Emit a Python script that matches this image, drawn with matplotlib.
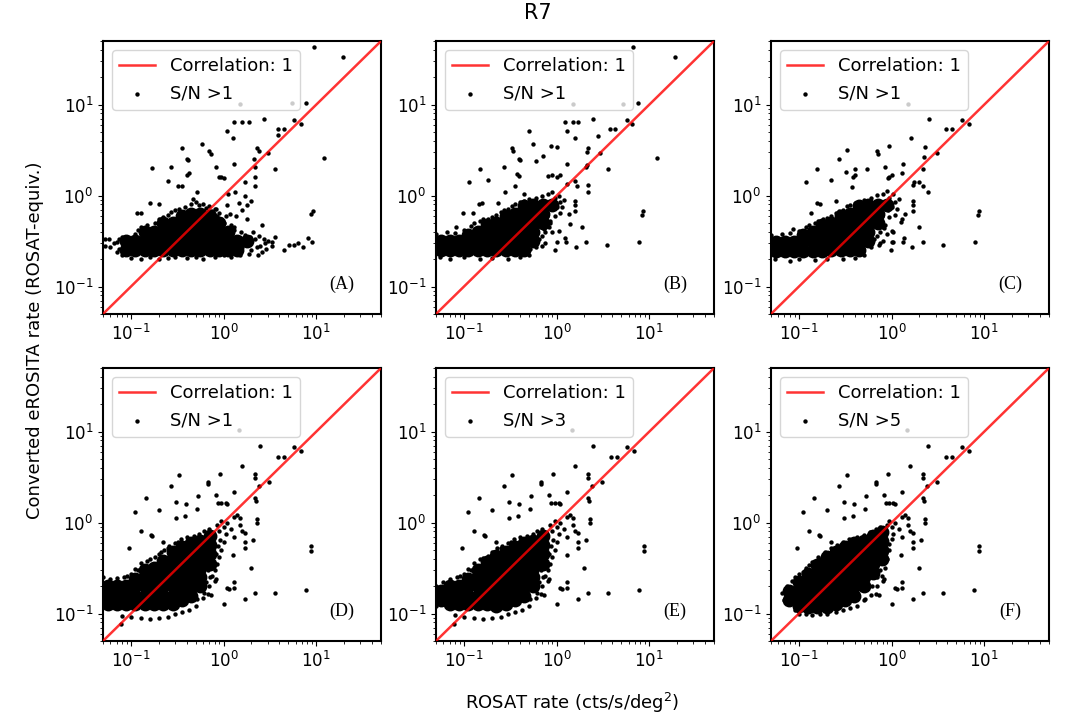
import matplotlib
matplotlib.use("Agg")
import matplotlib.pyplot as plt
import numpy as np

# x = ROSAT rate, y = converted eROSITA rate (cts/s/deg^2)
one_to_one = [0.01, 100.0]

sn_labels = ["S/N >1", "S/N >1", "S/N >1", "S/N >1", "S/N >3", "S/N >5"]
panel_tags = ["(A)", "(B)", "(C)", "(D)", "(E)", "(F)"]

# dense parts of each cloud (drawn with big dots)
a_core = [
    (0.089, 0.251), (0.112, 0.251), (0.141, 0.251), (0.178, 0.251), (0.224, 0.251), (0.282, 0.251),
    (0.355, 0.251), (0.447, 0.251), (0.562, 0.251), (0.708, 0.251), (0.891, 0.251), (1.12, 0.251), (1.41, 0.251),
    (0.089, 0.316), (0.112, 0.316), (0.141, 0.316), (0.178, 0.316), (0.224, 0.316), (0.282, 0.316),
    (0.355, 0.316), (0.447, 0.316), (0.562, 0.316), (0.708, 0.316), (0.891, 0.316), (1.12, 0.316), (1.41, 0.316),
    (1.78, 0.316),
    (0.141, 0.398), (0.178, 0.398), (0.224, 0.398), (0.282, 0.398), (0.355, 0.398),
    (0.447, 0.398), (0.562, 0.398), (0.708, 0.398), (0.891, 0.398), (1.12, 0.398),
    (0.224, 0.501), (0.282, 0.501), (0.355, 0.501), (0.447, 0.501), (0.562, 0.501),
    (0.708, 0.501), (0.891, 0.501),
    (0.355, 0.6), (0.447, 0.631), (0.562, 0.631), (0.708, 0.6),
]
b_core = [
    (0.056, 0.251), (0.071, 0.251), (0.089, 0.251), (0.112, 0.251), (0.141, 0.251), (0.178, 0.251),
    (0.224, 0.251), (0.282, 0.251), (0.355, 0.251), (0.447, 0.251),
    (0.056, 0.316), (0.071, 0.316), (0.089, 0.316), (0.112, 0.316), (0.141, 0.316), (0.178, 0.316),
    (0.224, 0.316), (0.282, 0.316), (0.355, 0.316), (0.447, 0.316), (0.562, 0.316),
    (0.112, 0.37), (0.141, 0.398), (0.178, 0.398), (0.224, 0.398), (0.282, 0.398), (0.355, 0.398),
    (0.447, 0.398), (0.562, 0.398),
    (0.178, 0.47), (0.224, 0.501), (0.282, 0.501), (0.355, 0.501), (0.447, 0.501), (0.562, 0.501),
    (0.708, 0.501),
    (0.282, 0.6), (0.355, 0.631), (0.447, 0.631), (0.562, 0.631), (0.708, 0.631),
    (0.447, 0.76), (0.562, 0.794), (0.708, 0.794), (0.891, 0.794),
]
c_core = [
    (0.056, 0.245), (0.071, 0.245), (0.089, 0.245), (0.112, 0.245), (0.141, 0.245), (0.178, 0.245),
    (0.224, 0.251), (0.282, 0.251), (0.355, 0.251), (0.447, 0.251),
    (0.056, 0.31), (0.071, 0.31), (0.089, 0.31), (0.112, 0.31), (0.141, 0.316), (0.178, 0.316),
    (0.224, 0.316), (0.282, 0.316), (0.355, 0.316), (0.447, 0.316), (0.562, 0.316),
    (0.112, 0.37), (0.141, 0.398), (0.178, 0.398), (0.224, 0.398), (0.282, 0.398), (0.355, 0.398),
    (0.447, 0.398), (0.562, 0.398),
    (0.178, 0.47), (0.224, 0.501), (0.282, 0.501), (0.355, 0.501), (0.447, 0.501), (0.562, 0.501),
    (0.708, 0.501),
    (0.282, 0.6), (0.355, 0.631), (0.447, 0.631), (0.562, 0.631), (0.708, 0.631),
    (0.447, 0.76), (0.562, 0.794), (0.708, 0.794), (0.891, 0.794),
]
d_core = [
    (0.056, 0.2), (0.056, 0.158), (0.056, 0.126),
    (0.071, 0.2), (0.071, 0.158), (0.071, 0.126),
    (0.089, 0.2), (0.089, 0.158), (0.089, 0.126),
    (0.112, 0.24), (0.112, 0.2), (0.112, 0.158), (0.112, 0.126),
    (0.141, 0.3), (0.141, 0.251), (0.141, 0.2), (0.141, 0.158), (0.141, 0.126),
    (0.178, 0.316), (0.178, 0.251), (0.178, 0.2), (0.178, 0.158), (0.178, 0.126),
    (0.224, 0.38), (0.224, 0.316), (0.224, 0.251), (0.224, 0.2), (0.224, 0.158), (0.224, 0.126),
    (0.282, 0.47), (0.282, 0.398), (0.282, 0.316), (0.282, 0.251), (0.282, 0.2), (0.282, 0.158), (0.282, 0.126),
    (0.355, 0.54), (0.355, 0.447), (0.355, 0.355), (0.355, 0.282), (0.355, 0.224), (0.355, 0.178), (0.355, 0.141),
    (0.447, 0.6), (0.447, 0.501), (0.447, 0.398), (0.447, 0.316), (0.447, 0.251), (0.447, 0.2), (0.447, 0.158),
    (0.562, 0.631), (0.562, 0.501), (0.562, 0.398), (0.562, 0.316), (0.562, 0.251), (0.562, 0.2),
    (0.708, 0.708), (0.708, 0.562), (0.708, 0.447), (0.708, 0.355),
]
e_core = [
    (0.056, 0.178), (0.056, 0.141),
    (0.071, 0.2), (0.071, 0.158), (0.071, 0.126),
    (0.089, 0.2), (0.089, 0.158), (0.089, 0.126),
    (0.112, 0.24), (0.112, 0.2), (0.112, 0.158), (0.112, 0.126),
    (0.141, 0.3), (0.141, 0.251), (0.141, 0.2), (0.141, 0.158), (0.141, 0.126),
    (0.178, 0.37), (0.178, 0.316), (0.178, 0.251), (0.178, 0.2), (0.178, 0.158), (0.178, 0.126),
    (0.224, 0.43), (0.224, 0.355), (0.224, 0.282), (0.224, 0.224), (0.224, 0.178), (0.224, 0.141), (0.224, 0.12),
    (0.282, 0.48), (0.282, 0.398), (0.282, 0.316), (0.282, 0.251), (0.282, 0.2), (0.282, 0.158), (0.282, 0.126),
    (0.355, 0.54), (0.355, 0.447), (0.355, 0.355), (0.355, 0.282), (0.355, 0.224), (0.355, 0.178), (0.355, 0.141),
    (0.447, 0.6), (0.447, 0.501), (0.447, 0.398), (0.447, 0.316), (0.447, 0.251), (0.447, 0.2), (0.447, 0.158),
    (0.562, 0.631), (0.562, 0.501), (0.562, 0.398), (0.562, 0.316), (0.562, 0.251), (0.562, 0.2),
    (0.708, 0.708), (0.708, 0.562), (0.708, 0.447), (0.708, 0.355),
]
f_core = [
    (0.079, 0.178), (0.079, 0.141),
    (0.1, 0.224), (0.1, 0.178), (0.1, 0.141), (0.1, 0.12),
    (0.126, 0.27), (0.126, 0.224), (0.126, 0.178), (0.126, 0.141), (0.126, 0.117),
    (0.158, 0.34), (0.158, 0.282), (0.158, 0.224), (0.158, 0.178), (0.158, 0.141), (0.158, 0.117),
    (0.2, 0.42), (0.2, 0.355), (0.2, 0.282), (0.2, 0.224), (0.2, 0.178), (0.2, 0.141), (0.2, 0.117),
    (0.251, 0.48), (0.251, 0.398), (0.251, 0.316), (0.251, 0.251), (0.251, 0.2), (0.251, 0.158), (0.251, 0.126),
    (0.316, 0.54), (0.316, 0.447), (0.316, 0.355), (0.316, 0.282), (0.316, 0.224), (0.316, 0.178), (0.316, 0.141),
    (0.398, 0.6), (0.398, 0.501), (0.398, 0.398), (0.398, 0.316), (0.398, 0.251), (0.398, 0.2), (0.398, 0.158),
    (0.501, 0.631), (0.501, 0.501), (0.501, 0.398), (0.501, 0.316), (0.501, 0.251), (0.501, 0.2),
    (0.631, 0.708), (0.631, 0.562), (0.631, 0.447), (0.631, 0.355), (0.631, 0.282),
    (0.794, 0.794), (0.794, 0.631), (0.794, 0.501), (0.794, 0.398),
]

# loose edges of each cloud
a_fringe = [
    (1.6, 0.27), (1.8, 0.3), (2.0, 0.25), (2.2, 0.33), (2.5, 0.28), (2.8, 0.3), (2.4, 0.36), (2.1, 0.4),
    (1.9, 0.23), (1.5, 0.22), (2.9, 0.26), (3.3, 0.28), (2.6, 0.24), (2.3, 0.27), (1.7, 0.37),
    (1.95, 0.35), (2.7, 0.33), (1.55, 0.4), (1.3, 0.42), (2.35, 0.22), (3.0, 0.32),
    (0.15, 0.48), (0.2, 0.55), (0.25, 0.62), (0.3, 0.7), (0.38, 0.75), (0.45, 0.8), (0.55, 0.78),
    (0.65, 0.74), (0.75, 0.68), (0.85, 0.6), (0.95, 0.55), (1.0, 0.5), (1.2, 0.48), (1.3, 0.45), (0.12, 0.42),
    (0.11, 0.38), (0.13, 0.45), (0.18, 0.5), (0.22, 0.58), (0.27, 0.66), (0.33, 0.72), (0.5, 0.85),
    (0.6, 0.8), (0.7, 0.76), (0.9, 0.65), (1.05, 0.6), (0.8, 0.72),
    (0.1, 0.205), (0.13, 0.2), (0.16, 0.21), (0.2, 0.2), (0.25, 0.205), (0.3, 0.21), (0.4, 0.205),
    (0.5, 0.21), (0.6, 0.2), (0.8, 0.21), (1.0, 0.22), (1.2, 0.21),
    (0.065, 0.3), (0.075, 0.26), (0.08, 0.35), (0.07, 0.24), (0.08, 0.22), (0.075, 0.33),
]
b_fringe = [
    (0.05, 0.38), (0.065, 0.4), (0.08, 0.39), (0.1, 0.42), (0.12, 0.46), (0.15, 0.52), (0.18, 0.56),
    (0.22, 0.62), (0.27, 0.7), (0.33, 0.76), (0.4, 0.85), (0.5, 0.92), (0.6, 0.95), (0.7, 1.0),
    (0.8, 1.05), (0.9, 1.1), (0.95, 0.95), (1.05, 1.0), (0.85, 0.85), (1.0, 0.75), (1.1, 0.65),
    (0.95, 0.6), (0.85, 0.5), (0.75, 0.4), (0.65, 0.33), (0.6, 0.27), (0.5, 0.22), (0.4, 0.21),
    (0.3, 0.2), (0.2, 0.205), (0.15, 0.2), (0.1, 0.21), (0.07, 0.2), (0.055, 0.21), (1.1, 0.85), (0.92, 0.72),
    (0.13, 0.5), (0.16, 0.55), (0.2, 0.58), (0.25, 0.66), (0.3, 0.72), (0.36, 0.8), (0.45, 0.88),
    (0.78, 0.6), (0.82, 0.45), (0.7, 0.36), (0.9, 0.4), (0.75, 0.3), (1.2, 0.9), (1.15, 0.75),
]
c_fringe = [
    (0.05, 0.37), (0.065, 0.38), (0.08, 0.39), (0.1, 0.41), (0.12, 0.45), (0.15, 0.5), (0.18, 0.55),
    (0.22, 0.6), (0.27, 0.68), (0.33, 0.76), (0.4, 0.82), (0.5, 0.9), (0.6, 0.95), (0.7, 1.02),
    (0.8, 1.05), (0.9, 1.12), (0.95, 0.95), (1.05, 1.05), (0.85, 0.85), (1.0, 0.75), (1.1, 0.62),
    (0.95, 0.58), (0.85, 0.48), (0.75, 0.4), (0.65, 0.33), (0.6, 0.27), (0.5, 0.22), (0.4, 0.205),
    (0.3, 0.2), (0.2, 0.2), (0.15, 0.195), (0.1, 0.2), (0.08, 0.19), (0.055, 0.2), (1.1, 0.85), (0.92, 0.7),
    (0.13, 0.48), (0.16, 0.53), (0.2, 0.57), (0.25, 0.64), (0.3, 0.7), (0.36, 0.78), (0.45, 0.86),
    (0.78, 0.6), (0.82, 0.44), (0.7, 0.36), (0.9, 0.38), (0.75, 0.3), (1.2, 0.92), (1.15, 0.72),
]
d_fringe = [
    (0.05, 0.25), (0.06, 0.24), (0.07, 0.245), (0.085, 0.25), (0.1, 0.27), (0.12, 0.3), (0.13, 0.36),
    (0.15, 0.38), (0.18, 0.42), (0.2, 0.45), (0.23, 0.5), (0.26, 0.56), (0.3, 0.6), (0.35, 0.66),
    (0.4, 0.7), (0.48, 0.72), (0.55, 0.75), (0.62, 0.8), (0.7, 0.85),
    (0.09, 0.26), (0.11, 0.31), (0.16, 0.4), (0.21, 0.47), (0.25, 0.53), (0.32, 0.62), (0.42, 0.66),
    (0.08, 0.095), (0.1, 0.092), (0.13, 0.09), (0.16, 0.088), (0.2, 0.09), (0.25, 0.092), (0.3, 0.1),
    (0.36, 0.105), (0.42, 0.11), (0.5, 0.12), (0.6, 0.15), (0.7, 0.2), (0.75, 0.26), (0.8, 0.3),
    (0.85, 0.35), (0.9, 0.42), (0.95, 0.5),
    (0.62, 0.17), (0.65, 0.22), (0.72, 0.25), (0.68, 0.3), (0.78, 0.36), (0.82, 0.45), (0.88, 0.55),
    (0.92, 0.65), (1.0, 0.62),
    (0.85, 0.95), (0.95, 1.05), (1.0, 0.9), (1.1, 1.0), (1.2, 0.85), (0.9, 0.8), (1.05, 0.75),
    (1.3, 0.7), (1.5, 0.95), (1.6, 0.8), (0.079, 0.076),
]
e_fringe = [
    (0.05, 0.2), (0.06, 0.22), (0.07, 0.24), (0.085, 0.25), (0.1, 0.27), (0.12, 0.3), (0.13, 0.36),
    (0.15, 0.4), (0.18, 0.43), (0.2, 0.47), (0.23, 0.52), (0.26, 0.56), (0.3, 0.6), (0.35, 0.66),
    (0.4, 0.7), (0.48, 0.72), (0.55, 0.75), (0.62, 0.8), (0.7, 0.85), (0.049, 0.16), (0.05, 0.12),
    (0.09, 0.26), (0.11, 0.31), (0.16, 0.41), (0.21, 0.48), (0.25, 0.53), (0.32, 0.62), (0.42, 0.66),
    (0.08, 0.097), (0.1, 0.092), (0.13, 0.09), (0.16, 0.088), (0.2, 0.09), (0.25, 0.092), (0.3, 0.1),
    (0.36, 0.105), (0.42, 0.11), (0.5, 0.12), (0.6, 0.15), (0.7, 0.2), (0.75, 0.26), (0.8, 0.3),
    (0.85, 0.35), (0.9, 0.42), (0.95, 0.5),
    (0.62, 0.17), (0.65, 0.22), (0.72, 0.25), (0.68, 0.3), (0.78, 0.36), (0.82, 0.45), (0.88, 0.55),
    (0.92, 0.65), (1.0, 0.62),
    (0.85, 0.95), (0.95, 1.05), (1.0, 0.9), (1.1, 1.0), (1.2, 0.85), (0.9, 0.8), (1.05, 0.75),
    (1.3, 0.7), (1.5, 0.95), (1.6, 0.8), (0.079, 0.076),
]
f_fringe = [
    (0.066, 0.17), (0.07, 0.14), (0.075, 0.2), (0.085, 0.23), (0.1, 0.27), (0.12, 0.32), (0.14, 0.37),
    (0.16, 0.42), (0.19, 0.47), (0.22, 0.52), (0.26, 0.57), (0.3, 0.62), (0.35, 0.66), (0.42, 0.7),
    (0.5, 0.74), (0.58, 0.78), (0.68, 0.85), (0.75, 0.9),
    (0.09, 0.25), (0.11, 0.29), (0.13, 0.34), (0.17, 0.4), (0.23, 0.48), (0.28, 0.55), (0.36, 0.6),
    (0.09, 0.11), (0.1, 0.1), (0.12, 0.098), (0.14, 0.096), (0.17, 0.098), (0.2, 0.1), (0.25, 0.105),
    (0.3, 0.11), (0.36, 0.115), (0.42, 0.12), (0.5, 0.14), (0.6, 0.16), (0.7, 0.2), (0.78, 0.26),
    (0.85, 0.32), (0.9, 0.4), (0.95, 0.5),
    (0.62, 0.2), (0.7, 0.25), (0.75, 0.3), (0.82, 0.36), (0.88, 0.46), (0.95, 0.58), (1.0, 0.66),
    (0.9, 0.95), (0.95, 1.05), (1.0, 0.9), (1.1, 1.0), (1.2, 0.85), (1.05, 0.75),
    (1.3, 0.7), (1.5, 0.95), (1.6, 0.8),
]

# isolated sources
a_outliers = [
    (9.4, 43), (19.6, 33), (7.8, 10.5), (1.5, 10.1), (5.5, 10.4),
    (1.3, 6.5), (1.6, 6.5), (1.9, 6.5), (2.7, 7.0), (5.7, 6.8), (6.9, 6.2), (3.9, 5.4), (4.5, 5.4),
    (3.9, 4.6), (1.08, 5.2), (1.25, 4.3),
    (2.3, 3.3), (2.4, 3.1), (3.0, 2.95), (0.36, 3.3), (0.58, 3.7), (0.40, 2.5), (0.41, 2.45),
    (0.69, 3.06), (0.73, 2.9), (0.27, 2.05), (0.17, 2.0), (0.83, 2.05), (1.3, 2.2), (2.15, 2.5),
    (2.2, 2.05), (3.6, 1.94), (12.1, 2.6),
    (0.40, 1.69), (0.42, 1.78), (0.9, 1.6), (0.95, 1.62), (1.0, 1.55), (0.36, 1.29), (0.32, 1.29),
    (0.25, 1.46), (1.7, 1.4), (2.2, 1.59), (2.2, 1.29), (1.7, 1.0), (1.33, 1.09), (1.12, 1.04),
    (0.52, 1.09), (0.47, 0.92), (1.17, 0.63), (1.35, 0.6), (1.8, 0.55), (1.8, 0.78), (2.0, 0.88),
    (0.83, 0.71), (2.6, 0.47), (1.45, 0.82), (1.6, 0.7), (1.1, 0.78),
    (8.8, 0.63), (9.2, 0.67), (8.2, 0.34), (9.0, 0.31), (6.3, 0.30), (7.2, 0.27), (5.1, 0.29),
    (4.5, 0.25), (5.7, 0.29), (3.3, 0.31), (3.6, 0.35),
    (0.052, 0.33), (0.058, 0.33), (0.053, 0.28), (0.06, 0.27), (0.07, 0.31), (0.116, 0.64),
    (0.13, 0.64), (0.16, 0.84), (0.2, 0.81),
]
b_outliers = [
    (6.7, 43), (18.9, 33), (7.6, 10.5), (1.49, 10.1), (5.2, 10.1),
    (1.22, 6.5), (1.52, 6.5), (1.7, 6.5), (2.45, 7.0), (5.7, 6.8), (6.45, 6.2), (3.8, 5.4), (4.3, 5.4),
    (1.58, 4.3), (1.29, 5.2), (2.8, 4.5), (0.51, 5.2), (0.56, 3.7), (0.33, 3.3), (0.34, 3.1),
    (0.88, 3.5), (1.0, 3.4), (2.2, 3.3), (2.15, 3.0), (2.95, 2.95), (0.72, 2.76), (0.39, 2.5),
    (0.40, 2.45), (0.27, 2.05), (0.60, 2.43), (1.29, 2.23), (2.09, 2.05), (2.15, 2.15), (12, 2.58),
    (3.6, 1.94),
    (0.149, 1.97), (0.114, 1.43), (0.18, 1.49), (0.37, 1.73), (0.39, 1.65), (0.36, 1.29), (0.44, 1.04),
    (0.8, 1.65), (0.9, 1.7), (1.0, 1.62), (1.1, 1.68), (0.28, 1.09), (1.6, 1.46), (1.65, 1.29),
    (1.29, 1.34), (2.2, 1.31), (2.2, 1.09), (1.6, 0.88), (1.6, 0.78), (1.6, 0.68), (1.35, 0.63),
    (1.4, 0.49), (1.9, 0.45), (2.1, 0.31), (3.5, 0.29), (7.7, 0.31), (8.5, 0.67), (8.3, 0.61),
    (1.62, 0.27), (1.22, 0.34), (1.27, 0.31), (0.97, 0.25), (1.05, 0.41), (0.85, 0.53), (0.73, 0.43),
    (0.69, 0.28), (0.52, 0.26), (1.0, 0.31), (0.083, 0.45), (0.097, 0.64), (0.126, 0.64),
    (0.145, 0.81), (0.155, 0.83), (0.234, 0.84),
]
c_outliers = [
    (1.5, 10.1), (2.56, 7.0), (5.75, 6.8), (6.8, 6.2), (3.9, 5.4), (4.5, 5.4), (1.63, 4.3), (3.1, 2.95),
    (2.27, 3.4), (2.25, 2.65), (0.93, 3.5), (0.70, 3.06), (0.71, 2.9), (0.33, 3.2), (0.27, 2.54),
    (2.2, 1.97), (1.32, 2.23), (0.84, 2.05), (0.55, 1.97), (0.40, 1.97), (0.32, 1.84), (0.157, 1.97),
    (0.12, 1.43), (0.22, 1.49), (0.40, 1.7), (0.38, 1.62), (0.37, 1.24), (0.95, 1.6), (1.0, 1.7),
    (0.92, 1.55), (1.29, 1.78), (1.7, 1.3), (1.75, 1.4), (2.0, 1.4), (2.2, 1.29), (2.5, 1.09),
    (1.7, 0.88), (1.7, 0.78), (1.7, 0.68), (1.4, 0.63), (1.29, 0.55), (1.28, 0.51), (2.0, 0.45),
    (1.0, 0.41), (1.05, 0.4), (0.8, 0.45), (1.35, 0.34), (1.33, 0.31), (1.67, 0.27), (0.99, 0.25),
    (1.0, 0.31), (1.05, 0.31), (0.8, 0.32), (2.2, 0.31), (3.55, 0.29), (8.0, 0.31), (8.8, 0.67),
    (8.6, 0.61), (0.73, 0.29), (0.087, 0.43), (0.134, 0.64), (0.157, 0.83), (0.17, 0.81), (0.253, 0.88),
]
# bright sources are the same in the three lower panels
def_outliers = [
    (1.47, 10.3), (2.5, 6.9), (3.9, 5.3), (4.5, 5.3), (5.7, 6.7), (6.8, 6.1),
    (1.6, 4.2), (0.91, 3.4), (0.33, 3.3), (0.68, 2.83), (0.68, 2.63), (0.27, 2.5), (3.06, 2.83),
    (2.2, 3.4), (2.2, 3.1), (2.4, 2.5), (1.3, 2.16),
    (0.146, 1.85), (0.31, 1.7), (0.39, 1.6), (0.53, 1.94), (0.83, 1.99), (0.87, 1.63), (0.95, 1.63),
    (1.05, 1.63), (1.1, 1.6), (2.2, 1.85), (2.25, 1.73),
    (0.111, 1.32), (0.20, 1.38), (0.52, 1.40), (0.31, 1.12), (0.38, 1.17), (1.3, 1.15), (1.5, 1.12),
    (1.4, 1.2), (2.3, 1.1), (2.3, 0.98),
    (0.128, 0.81), (0.096, 0.52), (0.165, 0.73), (0.17, 0.72), (0.22, 0.62), (0.40, 0.48), (0.41, 0.40),
    (1.7, 0.76), (1.7, 0.62), (2.1, 0.64), (1.7, 0.53), (1.28, 0.44), (2.0, 0.32),
    (8.7, 0.56), (8.7, 0.49), (7.8, 0.18), (3.6, 0.17), (2.2, 0.17), (1.7, 0.145), (1.0, 0.126),
    (0.68, 0.165), (0.74, 0.16), (1.3, 0.22), (1.3, 0.19), (1.1, 0.19), (1.15, 0.185), (0.52, 0.144),
    (0.8, 0.23), (0.83, 0.24),
]

cores = [a_core, b_core, c_core, d_core, e_core, f_core]
fringes = [a_fringe, b_fringe, c_fringe, d_fringe, e_fringe, f_fringe]
outliers = [a_outliers, b_outliers, c_outliers, def_outliers, def_outliers, def_outliers]


def xy(points):
    arr = np.array(points, dtype=float)
    return arr[:, 0], arr[:, 1]


fig = plt.figure(figsize=(10.76, 7.22), dpi=100)
lefts = [0.0957, 0.4052, 0.7165]
bottoms = [0.5651, 0.1122]

for i in range(6):
    ax = fig.add_axes([lefts[i % 3], bottoms[i // 3], 0.2584, 0.378])
    ax.plot(one_to_one, one_to_one, color="red", alpha=0.8, lw=1.8,
            label="Correlation: 1", zorder=3)
    cx, cy = xy(cores[i])
    ax.scatter(cx, cy, s=100, c="k", linewidths=0, zorder=2)
    px, py = xy(fringes[i] + outliers[i])
    ax.scatter(px, py, s=10, c="k", linewidths=0, label=sn_labels[i], zorder=2)
    ax.set_xscale("log")
    ax.set_yscale("log")
    ax.set_xlim(0.05, 50)
    ax.set_ylim(0.05, 50)
    ax.tick_params(labelsize=12)
    for sp in ax.spines.values():
        sp.set_linewidth(1.5)
    ax.legend(loc="upper left", fontsize=13)
    ax.text(0.86, 0.11, panel_tags[i], transform=ax.transAxes, ha="center",
            va="center", family="Liberation Serif", fontsize=13)

fig.text(0.5, 0.982, "R7", ha="center", va="center", fontsize=15)
fig.text(0.532, 0.026, "ROSAT rate (cts/s/deg$^2$)", ha="center", va="center", fontsize=13)
fig.text(0.0325, 0.529, "Converted eROSITA rate (ROSAT-equiv.)", ha="center",
         va="center", rotation=90, fontsize=13)

fig.savefig("out.png", dpi=100)
